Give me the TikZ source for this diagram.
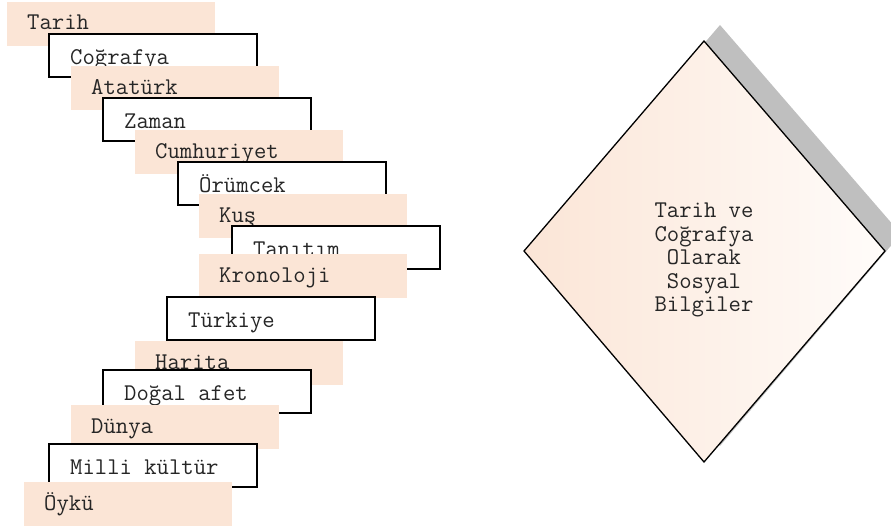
\documentclass[tikz,border=0pt]{standalone}
\usepackage{fontspec}
\definecolor{peach}{HTML}{FBE5D6}
\definecolor{shadowgray}{HTML}{BFBFBF}
\definecolor{paleend}{HTML}{FFFCFA}
\begin{document}
\begin{tikzpicture}[x=1pt,y=-1pt,
  fillbox/.style={fill=peach,draw=none},
  linebox/.style={fill=white,draw=black,line width=2pt},
  lbl/.style={anchor=base west,inner sep=0pt,font=\ttfamily\fontsize{24}{26}\selectfont,text=black!85}]
\useasboundingbox (0,0) rectangle (891,527);
% left stack, drawn from top to bottom
\newcommand\pbox[4]{% name, left, top, text
  \fill[peach] (#2,#3) rectangle ++(208,44);
  \node[lbl] (#1) at (#2+20,#3+28) {#4};}
\newcommand\lbox[4]{%
  \draw[linebox] (#2,#3) rectangle ++(208,43);
  \node[lbl] (#1) at (#2+21,#3+30) {#4};}
\pbox{tarih}{7}{2}{Tarih}
\lbox{cografya}{49}{34}{Coğrafya}
\pbox{ataturk}{71}{66}{Atatürk}
\lbox{zaman}{103}{98}{Zaman}
\pbox{cumhuriyet}{135}{130}{Cumhuriyet}
\lbox{orumcek}{178}{162}{Örümcek}
\pbox{kus}{199}{194}{Kuş}
\lbox{tanitim}{232}{226}{Tanıtım}
\pbox{kronoloji}{199}{254}{Kronoloji}
\lbox{turkiye}{167}{297}{Türkiye}
\pbox{harita}{135}{341}{Harita}
\lbox{dogal}{103}{370}{Doğal afet}
\pbox{dunya}{71}{405}{Dünya}
\lbox{milli}{49}{444}{Milli kültür}
\pbox{oyku}{24}{482}{Öykü}
% diamond with shadow
\fill[shadowgray] (720,25) -- (901,234) -- (720,446) -- (540,234) -- cycle;
\shade[left color=peach,right color=paleend,draw=black,line width=1.3pt]
  (704,41) -- (885,251) -- (704,462) -- (524,251) -- cycle;
\node[align=center,inner sep=0pt,font=\ttfamily\fontsize{24}{23.5}\selectfont,text=black!85] (center) at (704,260)
  {Tarih ve\\Coğrafya\\Olarak\\Sosyal\\Bilgiler};
\end{tikzpicture}
\end{document}
